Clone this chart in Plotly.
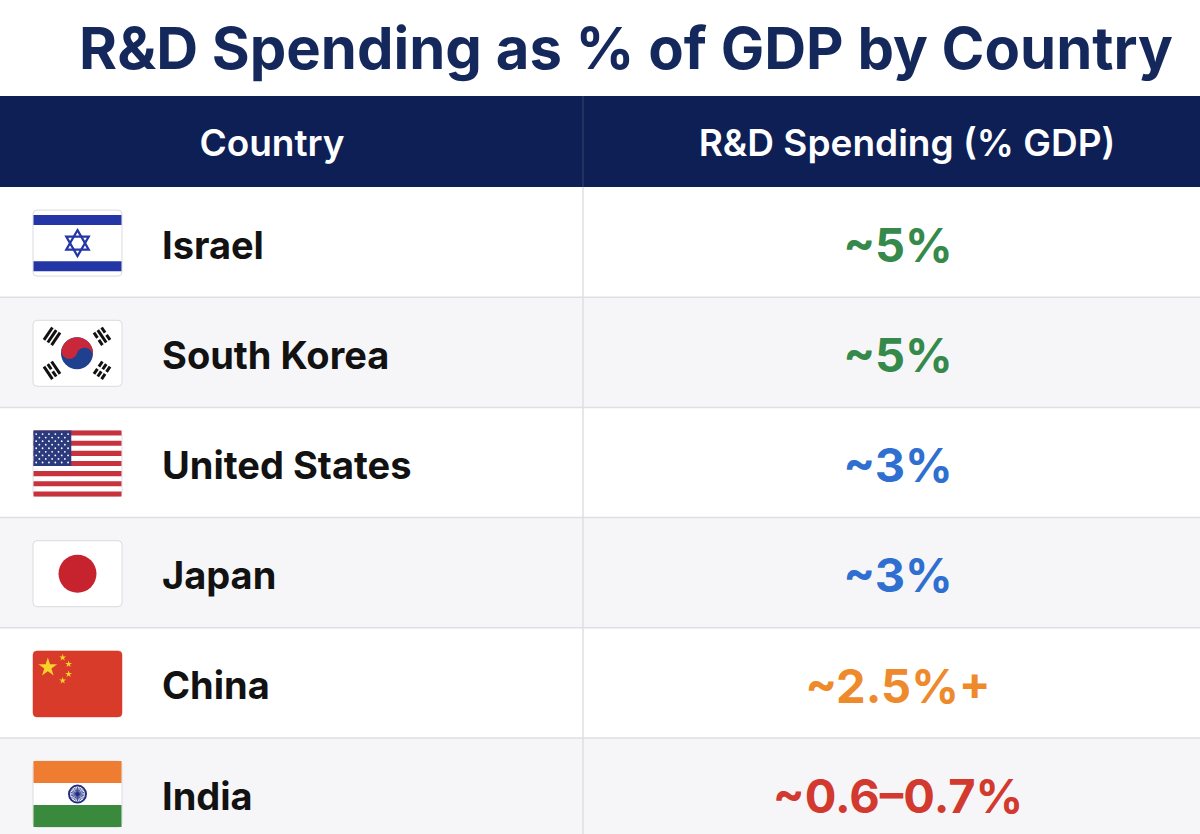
import math
import plotly.graph_objects as go

# ---------------- data ----------------
title_text = "R&D Spending as % of GDP by Country"
headers = ["Country", "R&D Spending (% GDP)"]
countries = ["Israel", "South Korea", "United States", "Japan", "China", "India"]
spending_labels = ["~5%", "~5%", "~3%", "~3%", "~2.5%+", "~0.6–0.7%"]
label_colors = ["#35894a", "#35894a", "#2f6fcf", "#2f6fcf", "#ee8a2c", "#d2392f"]
flag_codes = ["IL", "KR", "US", "JP", "CN", "IN"]

# ---------------- layout constants ----------------
W, H = 1200, 834
HEADER_TOP, HEADER_BOT = 96, 187
ROW_H = 110.2
COL_X = 583
NAME_X = 162
VALUE_X = 898
FLAG_X0, FLAG_W, FLAG_H = 33, 89, 66
NAVY = "#0e1f56"


def row_center(i):
    return HEADER_BOT + ROW_H * (i + 0.5)


shapes = []


def rect(x0, y0, x1, y1, fill, line=None, lw=0, layer="above"):
    shapes.append(dict(type="rect", xref="x", yref="y", x0=x0, y0=y0, x1=x1, y1=y1,
                       fillcolor=fill, line=dict(color=line or fill, width=lw), layer=layer))


def poly(pts, fill=None, line=None, lw=0, closed=True):
    p = "M " + " L ".join(f"{x:.2f},{y:.2f}" for x, y in pts)
    if closed:
        p += " Z"
    d = dict(type="path", xref="x", yref="y", path=p, layer="above",
             line=dict(color=line or "rgba(0,0,0,0)", width=lw))
    if fill:
        d["fillcolor"] = fill
    shapes.append(d)


def rrect(x0, y0, x1, y1, r, fill, line, lw):
    p = (f"M {x0+r},{y0} L {x1-r},{y0} Q {x1},{y0} {x1},{y0+r} L {x1},{y1-r} "
         f"Q {x1},{y1} {x1-r},{y1} L {x0+r},{y1} Q {x0},{y1} {x0},{y1-r} "
         f"L {x0},{y0+r} Q {x0},{y0} {x0+r},{y0} Z")
    shapes.append(dict(type="path", xref="x", yref="y", path=p, fillcolor=fill,
                       line=dict(color=line, width=lw), layer="above"))


def circle(cx, cy, r, fill, line=None, lw=0):
    shapes.append(dict(type="circle", xref="x", yref="y", x0=cx - r, y0=cy - r,
                       x1=cx + r, y1=cy + r, fillcolor=fill,
                       line=dict(color=line or fill, width=lw), layer="above"))


def seg(x0, y0, x1, y1, color, lw):
    shapes.append(dict(type="line", xref="x", yref="y", x0=x0, y0=y0, x1=x1, y1=y1,
                       line=dict(color=color, width=lw), layer="above"))


def star_pts(cx, cy, R, rot=-90, inner=0.38):
    pts = []
    for k in range(10):
        rr = R if k % 2 == 0 else R * inner
        a = math.radians(rot + 36 * k)
        pts.append((cx + rr * math.cos(a), cy + rr * math.sin(a)))
    return pts


def draw_flag(code, top):
    x0, x1 = FLAG_X0, FLAG_X0 + FLAG_W
    y0, y1 = top, top + FLAG_H
    cx, cy = (x0 + x1) / 2, (y0 + y1) / 2
    w, h = FLAG_W, FLAG_H
    if code == "IL":
        rrect(x0, y0, x1, y1, 4, "#ffffff", "#d9dbe0", 1)
        blue = "#2436a6"
        rect(x0 + 0.5, y0 + h * 12 / 160, x1 - 0.5, y0 + h * 36 / 160, blue)
        rect(x0 + 0.5, y0 + h * 124 / 160, x1 - 0.5, y0 + h * 148 / 160, blue)
        R = 13
        for rot in (-90, 90):
            pts = [(cx + R * math.cos(math.radians(rot + 120 * k)),
                    cy + R * math.sin(math.radians(rot + 120 * k))) for k in range(3)]
            poly(pts, line=blue, lw=2.2)
    elif code == "KR":
        rrect(x0, y0, x1, y1, 4, "#ffffff", "#d9dbe0", 1)
        cx -= 0.5
        r = 16
        red, blue = "#c9283a", "#1f3f8f"
        circle(cx, cy, r, blue)
        tilt = math.radians(18)

        def rot(px, py):
            dx, dy = px - cx, py - cy
            return (cx + dx * math.cos(tilt) - dy * math.sin(tilt),
                    cy + dx * math.sin(tilt) + dy * math.cos(tilt))
        pts = []
        n = 30
        for k in range(n + 1):  # top big arc from left to right
            t = math.pi - math.pi * k / n
            pts.append((cx + r * math.cos(t), cy - r * math.sin(t)))
        for k in range(1, n + 1):  # right small arc, blue bulging up
            t = math.pi * k / n
            pts.append((cx + r / 2 + (r / 2) * math.cos(t), cy - (r / 2) * math.sin(t)))
        for k in range(1, n + 1):  # left small arc, red bulging down
            t = math.pi * k / n
            pts.append((cx - r / 2 + (r / 2) * math.cos(t), cy + (r / 2) * math.sin(t)))
        poly([rot(px, py) for px, py in pts], fill=red)
        # trigrams
        patterns = {(-1, -1): (1, 1, 1), (1, -1): (0, 1, 0),
                    (-1, 1): (1, 0, 1), (1, 1): (0, 0, 0)}
        for (sx, sy), pat in patterns.items():
            dx, dy = sx * 25, sy * 17
            L = math.hypot(dx, dy)
            ux, uy = dx / L, dy / L
            px, py = -uy, ux
            bx, by = cx + dx, cy + dy
            half = 7.5
            for j, solid in enumerate(pat):
                off = (j - 1) * 4.6
                mx, my = bx + ux * off, by + uy * off
                if solid:
                    seg(mx - px * half, my - py * half, mx + px * half, my + py * half, "#111111", 3)
                else:
                    g = 1.3
                    seg(mx - px * half, my - py * half, mx - px * g, my - py * g, "#111111", 3)
                    seg(mx + px * g, my + py * g, mx + px * half, my + py * half, "#111111", 3)
    elif code == "US":
        rrect(x0, y0, x1, y1, 4, "#ffffff", "#e0e0e4", 1)
        red = "#c8323c"
        sh = h / 13
        for k in range(0, 13, 2):
            rect(x0 + 0.5, y0 + k * sh, x1 - 0.5, y0 + (k + 1) * sh, red)
        cw, ch = w * 0.43, sh * 7
        rect(x0 + 0.5, y0, x0 + cw, y0 + ch, "#2b3a7c")
        for rr in range(9):
            ncol = 6 if rr % 2 == 0 else 5
            for cc in range(ncol):
                sx = x0 + cw * ((cc * 2 + (1 if rr % 2 == 0 else 2)) / 12)
                sy = y0 + ch * ((rr + 1) / 10)
                circle(sx, sy, 0.9, "#ffffff")
    elif code == "JP":
        rrect(x0, y0, x1, y1, 4, "#ffffff", "#d9dbe0", 1)
        circle(cx, cy, 19, "#c7232f")
    elif code == "CN":
        rrect(x0, y0, x1, y1, 4, "#d83b2a", "#d83b2a", 0.5)
        u = h / 20
        yel = "#f8d22a"
        poly(star_pts(x0 + 5 * w / 30, y0 + 5 * u, 3 * u), fill=yel)
        for (gx, gy) in [(10, 2), (12, 4), (12, 7), (10, 9)]:
            sx = x0 + gx * w / 30
            sy = y0 + gy * h / 20
            poly(star_pts(sx, sy, 1.1 * u), fill=yel)
    elif code == "IN":
        rrect(x0, y0, x1, y1, 4, "#ffffff", "#d9dbe0", 1)
        rect(x0 + 0.5, y0, x1 - 0.5, y0 + h / 3, "#ee7d32")
        rect(x0 + 0.5, y0 + 2 * h / 3, x1 - 0.5, y1, "#3a8a3d")
        navy = "#1f2d82"
        circle(cx, cy, 8.5, "#ffffff", navy, 2)
        for k in range(12):
            a = math.radians(15 * k)
            seg(cx - 7 * math.cos(a), cy - 7 * math.sin(a), cx + 7 * math.cos(a), cy + 7 * math.sin(a), navy, 0.8)
        circle(cx, cy, 1.8, navy)


# backgrounds
for i in range(len(countries)):
    y0 = HEADER_BOT + ROW_H * i
    rect(0, y0, W, y0 + ROW_H, "#ffffff" if i % 2 == 0 else "#f6f6f8", layer="below")
rect(0, HEADER_TOP, W, HEADER_BOT, NAVY, layer="below")

# grid lines
for i in range(1, len(countries)):
    y = HEADER_BOT + ROW_H * i
    seg(0, y, W, y, "#dedfe5", 1.5)
seg(COL_X, HEADER_BOT, COL_X, H, "#dedfe5", 1.5)
seg(COL_X, HEADER_TOP, COL_X, HEADER_BOT, "#34446f", 1)

for i, code in enumerate(flag_codes):
    draw_flag(code, row_center(i) - FLAG_H / 2 + 1)

fig = go.Figure()
name_ys = [row_center(i) + 7 for i in range(len(countries))]
value_ys = [row_center(i) + 8 for i in range(len(countries))]

fig.add_trace(go.Scatter(
    x=[272, 907], y=[(HEADER_TOP + HEADER_BOT) / 2 + 5] * 2, mode="text", text=headers,
    textposition="middle center",
    textfont=dict(family="Inter", size=37, color="#ffffff", weight=600),
    hoverinfo="skip"))

fig.add_trace(go.Scatter(
    x=[NAME_X] * len(countries), y=name_ys, mode="text", text=countries,
    textposition="middle right",
    textfont=dict(family="Inter", size=38, color="#121212", weight=700),
    hoverinfo="skip"))

fig.add_trace(go.Scatter(
    x=[VALUE_X] * len(countries), y=value_ys, mode="text", text=spending_labels,
    textposition="middle center",
    textfont=dict(family="Inter", size=47, color=label_colors, weight=700),
    hoverinfo="skip"))

fig.update_layout(
    width=W, height=H, margin=dict(l=0, r=0, t=0, b=0),
    paper_bgcolor="#ffffff", plot_bgcolor="#ffffff", showlegend=False,
    xaxis=dict(range=[0, W], visible=False, fixedrange=True),
    yaxis=dict(range=[H, 0], visible=False, fixedrange=True),
    shapes=shapes,
    title=dict(text=title_text, x=626 / W, xanchor="center", y=1 - 49 / H, yanchor="middle",
               font=dict(family="Inter", size=58, color="#15285c", weight=700)),
)

fig.write_html("out.html", config={"displayModeBar": False},
               post_script="document.body.style.margin='0';document.body.style.overflow='hidden';")
